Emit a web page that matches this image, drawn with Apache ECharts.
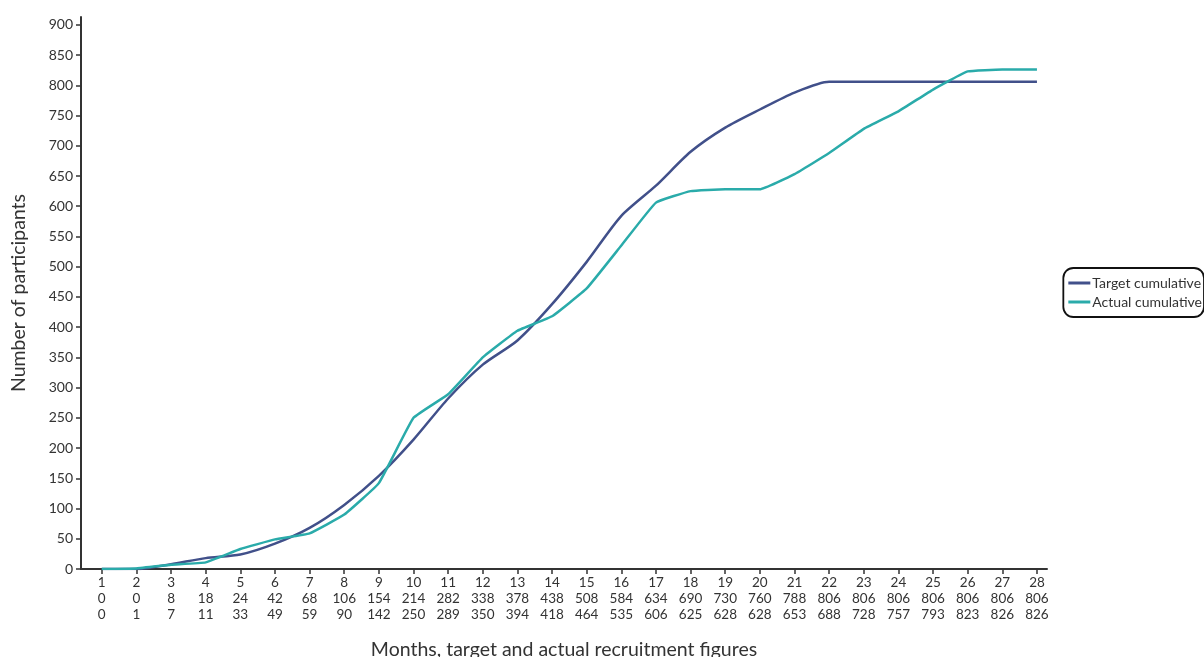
<!DOCTYPE html>
<html>
<head>
<meta charset="utf-8">
<script src="https://cdn.jsdelivr.net/npm/echarts@6/dist/echarts.min.js"></script>
<style>
html,body{margin:0;padding:0;background:#fff;}
#chart{width:1204px;height:657px;}
</style>
</head>
<body>
<div id="chart"></div>
<script>
const months = [1,2,3,4,5,6,7,8,9,10,11,12,13,14,15,16,17,18,19,20,21,22,23,24,25,26,27,28];
const targetCumulative = [0,0,8,18,24,42,68,106,154,214,282,338,378,438,508,584,634,690,730,760,788,806,806,806,806,806,806,806];
const actualCumulative = [0,1,7,11,33,49,59,90,142,250,289,350,394,418,464,535,606,625,628,628,653,688,728,757,793,823,826,826];
const yTicks = [0,50,100,150,200,250,300,350,400,450,500,550,600,650,700,750,800,850,900];

const font = 'Lato, "Open Sans", sans-serif';
const chart = echarts.init(document.getElementById('chart'));
chart.setOption({
  animation: false,
  textStyle: {fontFamily: font},
  grid: {left: 81, right: 157, top: 17, bottom: 88, containLabel: false, outerBoundsMode: 'none'},
  legend: {
    right: 0, top: 268,
    orient: 'vertical',
    borderColor: '#111', borderWidth: 1.8, borderRadius: 10,
    padding: [8, 2, 8, 5],
    itemGap: 5, itemWidth: 22, itemHeight: 3,
    icon: 'rect',
    textStyle: {fontFamily: font, fontSize: 14, color: '#333', padding: [0,0,0,-3]},
    data: ['Target cumulative', 'Actual cumulative']
  },
  xAxis: {
    type: 'value', min: 0.4, max: 28.29,
    name: 'Months, target and actual recruitment figures',
    nameLocation: 'middle', nameGap: 71,
    nameTextStyle: {fontFamily: font, fontSize: 19.5, color: '#333'},
    axisLine: {show: true, onZero: false, lineStyle: {color: '#333', width: 2}},
    axisTick: {show: true, length: 5, lineStyle: {color: '#333', width: 1.5}, customValues: months},
    splitLine: {show: false},
    axisLabel: {
      customValues: months,
      fontFamily: font, fontSize: 13.5, color: '#333', lineHeight: 16, margin: 6,
      formatter: function (v) {
        const i = months.indexOf(Math.round(v));
        return months[i] + '\n' + targetCumulative[i] + '\n' + actualCumulative[i];
      }
    }
  },
  yAxis: {
    type: 'value', min: 0, max: 913,
    name: 'Number of participants',
    nameLocation: 'middle', nameGap: 52,
    nameTextStyle: {fontFamily: font, fontSize: 19.5, color: '#333'},
    axisLine: {show: true, lineStyle: {color: '#333', width: 2}},
    axisTick: {show: true, length: 5, lineStyle: {color: '#333', width: 1.5}, customValues: yTicks},
    splitLine: {show: false},
    axisLabel: {customValues: yTicks, fontFamily: font, fontSize: 14, color: '#333', margin: 8}
  },
  series: [
    {
      name: 'Target cumulative', type: 'line',
      data: months.map((m, i) => [m, targetCumulative[i]]),
      showSymbol: false, smooth: 0.25,
      lineStyle: {color: '#41508A', width: 2.5},
      itemStyle: {color: '#41508A'}
    },
    {
      name: 'Actual cumulative', type: 'line',
      data: months.map((m, i) => [m, actualCumulative[i]]),
      showSymbol: false, smooth: 0.1,
      lineStyle: {color: '#2AABAA', width: 2.5},
      itemStyle: {color: '#2AABAA'}
    }
  ]
});
</script>
</body>
</html>
